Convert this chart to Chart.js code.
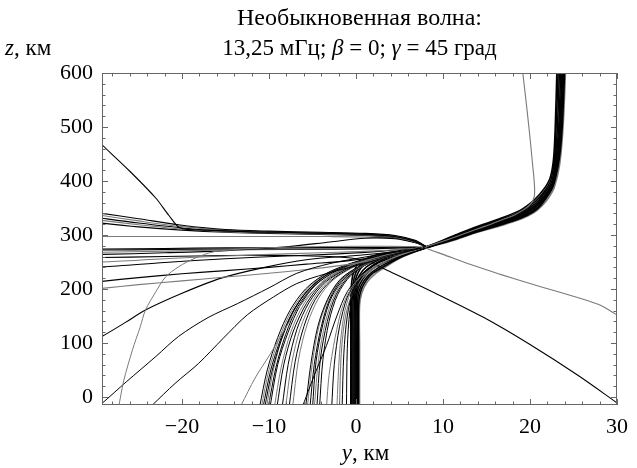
<!DOCTYPE html>
<html>
<head>
<meta charset="utf-8">
<script src="https://cdn.jsdelivr.net/npm/chart.js@4"></script>
<style>
  html, body { margin: 0; padding: 0; background: #fff; }
  #wrap { width: 637px; height: 468px; }
</style>
</head>
<body>
<div id="wrap"><canvas id="rays" width="637" height="468"></canvas></div>
<script>
// horizontal range y (km) and height z (km)
const yRange = [-29.2, 30];
const zRange = [-15, 600];
const yTickValues = [-20, -10, 0, 10, 20, 30];
const zTickValues = [0, 100, 200, 300, 400, 500, 600];

// each ray is a list of [y, z] points, km
const mainBundle = [
  [[-0.6,-20],[-0.6,100],[-0.6,180],[-0.5,212],[-0.25,232],[0.4,249],[2.3,263],[5.3,271],[8,278],[11,297],[13.6,314],[16.5,330],[18.9,346],[20.5,365],[21.6,385],[22.3,405],[22.7,440],[22.9,500],[23.1,610]],
  [[-0.48,-20],[-0.48,100],[-0.47,178],[-0.35,208],[-0.05,229],[0.6,246],[2.6,261],[5.3,269],[8,277.5],[11,296],[13.6,312.5],[16.5,328],[18.9,343],[20.6,362],[21.7,382],[22.4,402],[22.8,440],[23,500],[23.25,610]],
  [[-0.35,-20],[-0.35,100],[-0.34,176],[-0.2,205],[0.15,227],[0.9,244],[2.8,259],[5.3,268],[8,277],[11,295],[13.6,311],[16.5,326],[18.9,341],[20.6,358],[21.7,378],[22.5,399],[22.9,440],[23.15,500],[23.4,610]],
  [[-0.22,-20],[-0.22,100],[-0.2,174],[-0.05,202],[0.35,224],[1.2,241],[3,256],[5.3,266],[8,277],[11,294],[13.6,309.5],[16.5,324],[18.9,339],[20.6,355],[21.7,374],[22.6,397],[23,440],[23.3,500],[23.55,610]],
  [[-0.1,-20],[-0.1,100],[-0.08,172],[0.08,200],[0.55,221],[1.5,238],[3.1,252],[5.3,264],[8,276.5],[11,293],[13.6,308],[16.5,322.5],[18.9,337],[20.5,352],[21.6,370],[22.6,394],[23.1,440],[23.4,500],[23.7,610]],
  [[0.02,-20],[0.02,100],[0.03,171],[0.2,198],[0.75,218],[1.7,235],[3.2,249],[5.3,263],[8,276],[11,292],[13.6,306.5],[16.5,321],[18.9,335],[20.5,349],[21.5,366],[22.6,392],[23.2,440],[23.5,500],[23.8,610]],
  [[0.15,-20],[0.15,100],[0.16,170],[0.35,196],[0.95,216],[1.9,232],[3.3,246],[5.3,261],[8,276],[11,291],[13.6,305.5],[16.5,319.5],[18.9,333],[20.5,346],[21.4,361],[22.6,390],[23.3,440],[23.6,500],[23.9,610]],
  [[0.28,-20],[0.28,100],[0.29,169],[0.5,194],[1.1,214],[2,230],[3.35,243],[5.3,260],[7.9,275.5],[11,290],[13.6,304],[16.5,318],[18.9,331],[20.4,343],[21.3,356],[22.6,388],[23.35,440],[23.7,500],[24,610]],
  [[0.4,-20],[0.4,100],[0.4,168],[0.65,192],[1.3,213],[2.2,228],[3.4,241],[5.3,259],[7.9,275],[11,289],[13.6,303],[16.6,317],[18.9,329],[20.4,341],[21.3,353],[22.1,368],[22.8,389],[23.4,430],[23.8,500],[24.1,610]]
];

const fanRays = [
  [[-11.1,-20],[-10.2,50],[-9,110],[-7.6,160],[-5.8,200],[-3.5,228],[-0.5,248],[3,263],[7,276]],
  [[-10.9,-20],[-10,50],[-8.8,110],[-7.4,160],[-5.6,200],[-3.3,229],[-0.4,248],[3,263],[7,276]],
  [[-10.7,-20],[-9.8,50],[-8.6,110],[-7.2,160],[-5.4,200],[-3.2,228],[-0.3,248],[3,263],[7,276]],
  [[-10.5,-20],[-9.7,45],[-8.6,105],[-7.3,155],[-5.6,197],[-3.4,226],[-0.6,246],[2.8,262],[7,276]],
  [[-10.3,-20],[-9.5,50],[-8.4,115],[-7,165],[-5,205],[-2.6,232],[0.2,250],[3.5,264],[7.2,276]],
  [[-10.1,-20],[-9.2,55],[-8.1,115],[-6.7,167],[-4.8,206],[-2.4,233],[0.4,250],[3.6,265],[7.2,277]],
  [[-9.9,-20],[-9,60],[-7.8,120],[-6.4,170],[-4.6,208],[-2.2,234],[0.6,251],[3.8,265],[7.3,277]],
  [[-9.4,-20],[-8.6,55],[-7.5,120],[-6,172],[-4,212],[-1.5,238],[1.2,253],[4.2,266],[7.4,277]],
  [[-9.1,-20],[-8.3,60],[-7.2,122],[-5.7,173],[-3.8,212],[-1.3,238],[1.5,254],[4.4,267],[7.5,277]],
  [[-8.5,-20],[-7.8,60],[-6.8,125],[-5.4,175],[-3.5,213],[-1,238],[1.8,255],[4.6,267],[7.5,277]],
  [[-8.1,-20],[-7.4,62],[-6.4,127],[-5,178],[-3.2,214],[-0.8,239],[2,256],[4.8,268],[7.6,277]],
  [[-7.7,-20],[-7,65],[-6,130],[-4.7,180],[-2.9,215],[-0.5,240],[2.2,256],[5,268],[7.6,277]],
  [[-7.3,-20],[-6.6,70],[-5.6,135],[-4.3,183],[-2.6,217],[-0.2,241],[2.5,257],[5.2,269],[7.7,277]],
  [[-6.2,-20],[-4.8,40],[-3.4,95],[-2.2,150],[-1,195],[0.8,230],[3,254],[5.5,268],[7.8,277]],
  [[-5.8,-20],[-5.2,60],[-4.4,130],[-3.3,180],[-1.8,218],[0.5,243],[3,259],[5.5,270],[7.7,277]],
  [[-5.6,-20],[-5,65],[-4.2,135],[-3.1,184],[-1.6,220],[0.7,244],[3.2,260],[5.6,270],[7.8,277]],
  [[-5.3,-20],[-4.8,60],[-4,130],[-3,182],[-1.5,220],[0.8,245],[3.3,260],[5.7,271],[7.8,277]],
  [[-5,-20],[-4.6,65],[-3.8,135],[-2.8,185],[-1.2,222],[1,246],[3.5,261],[5.9,271],[7.9,278]],
  [[-4.8,-20],[-4.3,70],[-3.5,140],[-2.5,188],[-1,223],[1.2,246],[3.6,261],[6,272],[7.9,278]],
  [[-4.5,-20],[-4.1,70],[-3.3,140],[-2.3,189],[-0.8,224],[1.4,247],[3.8,262],[6.1,272],[7.9,278]],
  [[-4.2,-20],[-3.8,70],[-3.1,140],[-2.1,190],[-0.6,225],[1.5,248],[4,262],[6.2,272],[7.9,278]],
  [[-3.4,-20],[-3.1,40],[-2.4,110],[-1.5,170],[-0.2,210],[1.6,236],[4,256],[6.5,270],[8,278]],
  [[-2.8,-20],[-2.5,60],[-1.9,130],[-1,185],[0.3,220],[2.1,246],[4.3,262],[6.5,272],[8,278]],
  [[-2.2,-20],[-1.9,80],[-1.4,150],[-0.6,195],[0.6,226],[2.4,250],[4.6,264],[6.6,273],[8,278]],
  [[-1.6,-20],[-1.4,80],[-1,150],[-0.3,197],[0.9,228],[2.7,251],[4.8,265],[6.8,274],[8,278]],
  [[-1.1,-20],[-1,90],[-0.7,160],[-0.1,200],[1.1,230],[2.9,252],[5,266],[6.9,274],[8,278]]
];

// rays that run off to the left edge
const leftRays = [
  [[-30,480],[-29.2,467],[-26,418],[-23,368],[-21.5,336],[-20.2,313],[-17,309],[-12,306],[-6,304],[0,302],[4,298],[6.5,290],[8,279]],
  [[-30,342],[-29.2,340],[-25,330],[-20,318],[-15,310],[-10,307],[-4,305],[1,303],[4.5,299],[6.8,290],[8,279]],
  [[-30,338],[-29.2,336],[-25,326],[-20,315.5],[-15,309],[-10,306],[-4,304],[1,302],[4.5,298],[6.8,289],[8,279]],
  [[-30,333],[-29.2,331],[-25,322],[-20,313],[-15,307.5],[-10,305],[-4,303],[1,301],[4.5,297],[6.8,288],[8,279]],
  [[-30,329],[-29.2,327],[-25,319],[-20,311],[-15,306],[-10,304],[-4,302],[1,300],[4.5,296],[6.8,287],[8,279]],
  [[-30,324],[-29.2,322],[-25,315],[-20,309],[-15,305],[-10,303],[-4,301],[1,299],[4.5,295],[6.8,286],[8,279]],
  [[-30,275],[-29.2,274],[-22,275],[-15,276],[-8,276.5],[-2,277],[3,277],[7,278]],
  [[-30,273],[-29.2,272],[-22,273],[-15,274],[-8,274],[-2,274],[3,275],[7,277]],
  [[-30,269],[-29.2,268],[-22,270],[-15,272],[-8,273],[-2,273.5],[3,274.5],[7,277]],
  [[-30,265],[-29.2,264],[-22,267],[-15,271],[-8,278],[-3,287],[1,294],[4.5,293],[7,285],[8,279]],
  [[-30,252],[-29.2,250],[-22,256],[-15,261],[-8,265],[-2,268],[3,271],[7,276]],
  [[-30,242],[-29.2,241],[-22,249],[-15,256],[-8,261],[-2,265],[3,270],[7,276]],
  [[-30,212],[-29.2,214],[-25,221],[-20,228],[-15,234],[-10,240],[-5.7,246],[-1,252],[3,261],[7,274]],
  [[-30,199],[-29.2,201],[-25,208],[-20,215],[-15,222],[-10,229],[-5.7,236],[-1,245],[3,257],[7,273]],
  [[-30,106],[-29.2,112],[-26.5,138],[-24.2,161],[-20,192],[-15.5,220],[-10.5,240],[-5.7,254],[0,262],[4,268],[7.5,276]]
];

// long rays rising from the bottom on the left
const lowRays = [
  [[-27.3,-20],[-26.7,30],[-25.7,87],[-24.8,130],[-24.2,161],[-23,195],[-21.9,222],[-20.4,241],[-18.5,257],[-16.3,269],[-12,275],[-6,278],[0,279],[4,279],[7.5,278]],
  [[-30,-22],[-29.2,-12],[-26.4,28],[-23,75],[-20.4,112],[-17,147],[-13.6,173],[-10,202],[-6.8,229],[-3,247],[1,259],[4.5,268],[7.5,276]],
  [[-23.7,-20],[-23.4,-15],[-20.8,25],[-18.1,62],[-15.3,108],[-12.5,152],[-9.5,185],[-6.8,210],[-3.5,228],[0,243],[3.5,259],[7.3,275]],
  [[-13.4,-20],[-13.2,-15],[-11.6,35],[-9.8,81],[-8.2,125],[-6.8,161],[-5,195],[-3,222],[-0.5,244],[3,261],[7,276]]
];

// rays leaving to the right, and the one that turns up short of the bundle
const rightRays = [
  [[-30,297],[-20,297],[-10,297],[-3,297],[2,296],[5,293],[7,285],[8.3,274],[10,264],[13,246],[16.6,227],[20,210],[24,191],[27.9,171],[30,152]],
  [[-30,258],[-22,260],[-15,262],[-8,262],[-3,260],[0,256],[1.8,248],[3.4,236],[9,193],[14.7,147],[20,97],[25.5,40],[30,-11]],
  [[-1.9,-20],[-1.7,80],[-1.2,150],[-0.3,195],[1.2,228],[3.4,251],[5.8,267],[8,278],[11,294],[13.6,309],[15.5,320],[16.8,328],[18.2,337],[19.3,347],[20.1,358],[20.5,372],[20.5,395],[20.3,430],[20,480],[19.6,540],[19.1,610]]
];

const K = "#000";
const G = "#7a7a7a";
const bundleShades = [K, K, K, K, K, K, K, K, G];
const fanShades = [K, G, K, K, G, K, K, G, K, K, G, K, G, K, K, G, K, K, G, K, K, G, K, G, K, K];
const leftShades = [K, K, G, K, G, K, K, K, G, K, G, K, K, G, K];
const lowShades = [G, K, K, G];
const rightShades = [G, K, G];

const SERIF = '"Liberation Serif", "Times New Roman", serif';
const fontOf = (size, italic) => (italic ? "italic " : "") + size + "px " + SERIF;

const toPoints = (ray) => ray.map(([y, z]) => ({ x: y, y: z }));
const family = (rays, shades, width) =>
  rays.map((ray, i) => ({
    data: toPoints(ray),
    borderColor: shades[i % shades.length],
    borderWidth: width,
    pointRadius: 0,
    tension: 0.3,
    fill: false,
  }));

const minus = (v) => (v < 0 ? "\u2212" + Math.abs(v) : String(v));

// text made of plain and italic pieces
const drawRun = (ctx, parts, x, y, align, size) => {
  const widths = parts.map(([t, it]) => {
    ctx.font = fontOf(size, it);
    return ctx.measureText(t).width;
  });
  const total = widths.reduce((a, b) => a + b, 0);
  let cx = align === "center" ? x - total / 2 : x;
  parts.forEach(([t, it], i) => {
    ctx.font = fontOf(size, it);
    ctx.fillText(t, cx, y);
    cx += widths[i];
  });
};

const frameAndText = {
  id: "frameAndText",
  afterDatasetsDraw(chart) {
    const { ctx, chartArea: a, scales } = chart;
    ctx.save();
    ctx.strokeStyle = "#666";
    ctx.lineWidth = 1;
    ctx.strokeRect(a.left + 0.5, a.top + 0.5, a.width - 1, a.height - 1);
    ctx.beginPath();
    for (let v = -28; v <= 30; v += 2) {
      const px = Math.round(scales.x.getPixelForValue(v)) + 0.5;
      const len = v % 10 === 0 ? 6 : 3.5;
      ctx.moveTo(px, a.bottom); ctx.lineTo(px, a.bottom - len);
      ctx.moveTo(px, a.top); ctx.lineTo(px, a.top + len);
    }
    for (let v = 0; v <= 600; v += 20) {
      const py = Math.round(scales.y.getPixelForValue(v)) + 0.5;
      const len = v % 100 === 0 ? 6 : 3.5;
      ctx.moveTo(a.left, py); ctx.lineTo(a.left + len, py);
      ctx.moveTo(a.right, py); ctx.lineTo(a.right - len, py);
    }
    ctx.stroke();
    ctx.restore();
  },
  afterDraw(chart) {
    const { ctx, chartArea: a } = chart;
    const mid = (a.left + a.right) / 2;
    ctx.save();
    ctx.fillStyle = "#000";
    ctx.textBaseline = "alphabetic";
    ctx.textAlign = "left";
    drawRun(ctx, [["Необыкновенная волна:", false]], mid, 25, "center", 24);
    drawRun(ctx, [["13,25 мГц; ", false], ["β", true], [" = 0; ", false], ["γ", true], [" = 45 град", false]], mid, 55, "center", 23);
    drawRun(ctx, [["z", true], [", км", false]], 5, 55, "left", 23);
    drawRun(ctx, [["y", true], [", км", false]], mid + 6, 460, "center", 23);
    ctx.restore();
  },
};

const tickFont = { family: SERIF, size: 22 };

new Chart(document.getElementById("rays"), {
  type: "line",
  data: {
    datasets: [
      ...family(lowRays, lowShades, 1),
      ...family(leftRays, leftShades, 1.1),
      ...family(fanRays, fanShades, 1),
      ...family(rightRays, rightShades, 1.1),
      ...family(mainBundle, bundleShades, 1.6),
    ],
  },
  options: {
    responsive: false,
    animation: false,
    events: [],
    layout: { padding: { top: 73, right: 12, left: 0, bottom: 0 } },
    plugins: { legend: { display: false }, tooltip: { enabled: false }, title: { display: false } },
    scales: {
      x: {
        type: "linear",
        min: yRange[0],
        max: yRange[1],
        afterFit: (s) => { s.height = 63; },
        afterBuildTicks: (s) => { s.ticks = yTickValues.map((v) => ({ value: v })); },
        grid: { display: false, drawTicks: false },
        border: { display: false },
        ticks: { padding: 9, color: "#000", font: tickFont, callback: (v) => minus(v), maxRotation: 0 },
      },
      y: {
        type: "linear",
        min: zRange[0],
        max: zRange[1],
        afterFit: (s) => { s.width = 102; },
        afterBuildTicks: (s) => { s.ticks = zTickValues.map((v) => ({ value: v })); },
        grid: { display: false, drawTicks: false },
        border: { display: false },
        ticks: { padding: 9, color: "#000", font: tickFont, callback: (v) => minus(v) },
      },
    },
  },
  plugins: [frameAndText],
});
</script>
</body>
</html>
